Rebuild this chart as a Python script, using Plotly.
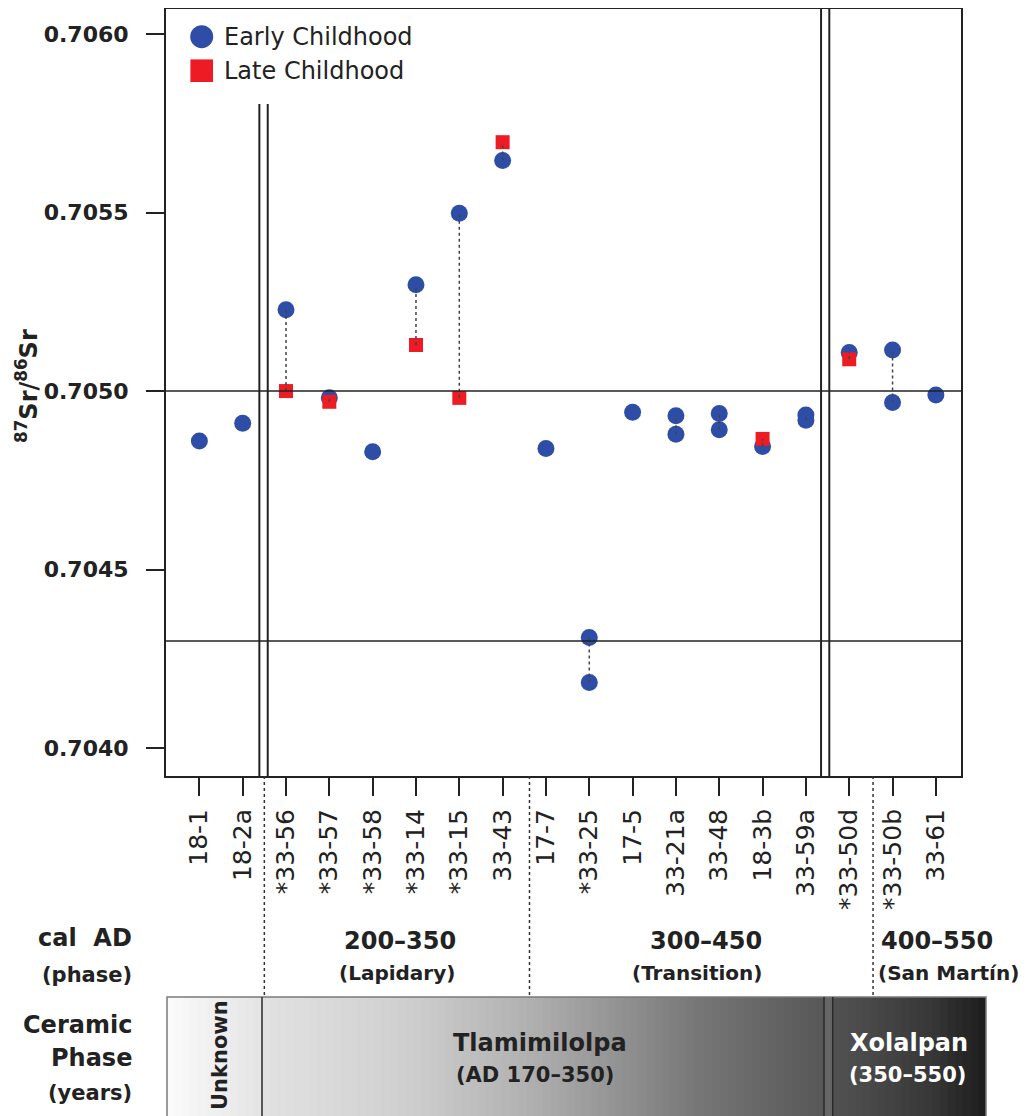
import plotly.graph_objects as go

# ---------------- data ----------------
categories = ["18-1", "18-2a", "*33-56", "*33-57", "*33-58", "*33-14", "*33-15", "33-43",
              "17-7", "*33-25", "17-5", "33-21a", "33-48", "18-3b", "33-59a", "*33-50d",
              "*33-50b", "33-61"]
early_a = [0.704860, 0.704910, 0.705228, 0.704981, 0.704830, 0.705298, 0.705498, 0.705646,
           0.704839, 0.704310, 0.704941, 0.704931, 0.704937, 0.704845, 0.704933, 0.705108,
           0.705115, 0.704989]
early_b = [None, None, None, None, None, None, None, None, None, 0.704184, None, 0.704879,
           0.704892, None, 0.704918, None, 0.704968, None]
late = [None, None, 0.705000, 0.704970, None, 0.705129, 0.704981, 0.705697, None, None, None,
        None, None, 0.704866, None, 0.705089, None, None]
reference_lines = [0.7050, 0.7043]
y_ticks = [0.7040, 0.7045, 0.7050, 0.7055, 0.7060]

phase_labels = [("200\u2013350", "(Lapidary)"), ("300\u2013450", "(Transition)"),
                ("400\u2013550", "(San Mart\u00edn)")]
ceramic_labels = [("Tlamimilolpa", "(AD 170\u2013350)"), ("Xolalpan", "(350\u2013550)")]

# ---------------- geometry helpers (page pixels; the page body has an 8px margin) ----------------
OFF = 8
W, H = 1026 - OFF, 1116 - OFF
L, T = 166 - OFF, 1
R = W - (961 - OFF)
B = H - (776 - OFF)
PW, PH = W - L - R, H - T - B
X_RANGE = [-0.77, 17.58]
Y_RANGE = [0.703922, 0.706070]


def fx(px):
    return (px - 166) / PW


def fy(py):
    return (776 - py) / PH


def fxi(i):
    return (i - X_RANGE[0]) / (X_RANGE[1] - X_RANGE[0])


BLUE = "#2E4DA7"
RED = "#ED1C24"
INK = "#222222"
BOLD = "DejaVu Sans"

fig = go.Figure()

# early childhood circles
ex, ey = [], []
for c, a, b in zip(categories, early_a, early_b):
    ex.append(c); ey.append(a)
    if b is not None:
        ex.append(c); ey.append(b)
fig.add_trace(go.Scatter(x=ex, y=ey, mode="markers", name="Early Childhood",
                         marker=dict(symbol="circle", size=17, color=BLUE, line=dict(width=0)),
                         showlegend=False))

lx = [c for c, v in zip(categories, late) if v is not None]
ly = [v for v in late if v is not None]
fig.add_trace(go.Scatter(x=lx, y=ly, mode="markers", name="Late Childhood",
                         marker=dict(symbol="square", size=14, color=RED, line=dict(width=0)),
                         showlegend=False))

# dashed connectors between samples of the same individual
cx, cy = [], []
for c, a, b, l in zip(categories, early_a, early_b, late):
    vals = [v for v in (a, b, l) if v is not None]
    if len(vals) > 1:
        cx += [c, c, None]
        cy += [min(vals), max(vals), None]
fig.add_trace(go.Scatter(x=cx, y=cy, mode="lines", showlegend=False, hoverinfo="skip",
                         line=dict(color="#444444", width=1.5, dash="3px,3px")))

shapes = []
# horizontal reference lines
for v in reference_lines:
    shapes.append(dict(type="line", xref="paper", yref="y", x0=0, x1=1, y0=v, y1=v,
                       line=dict(color=INK, width=1.5)))
# double vertical separators in the plot
for xv in (1.385, 1.578):
    shapes.append(dict(type="line", xref="x", yref="paper", x0=xv, x1=xv, y0=0, y1=fy(104),
                       line=dict(color=INK, width=2)))
for xv in (14.35, 14.54):
    shapes.append(dict(type="line", xref="x", yref="paper", x0=xv, x1=xv, y0=0, y1=1,
                       line=dict(color=INK, width=2)))
# dotted phase dividers below the axis
for xv in (1.5, 7.62, 15.55):
    shapes.append(dict(type="line", xref="paper", yref="paper", x0=fxi(xv), x1=fxi(xv),
                       y0=0, y1=fy(997), line=dict(color="#333333", width=1.5, dash="3px,3px")))


def hex2rgb(h):
    h = h.lstrip("#")
    return tuple(int(h[i:i + 2], 16) for i in (0, 2, 4))


def gradient(stops, n):
    out = []
    x0, x1 = stops[0][0], stops[-1][0]
    step = (x1 - x0) / n
    for k in range(n):
        xa = x0 + k * step
        xm = xa + step / 2
        for j in range(len(stops) - 1):
            if stops[j][0] <= xm <= stops[j + 1][0]:
                t = (xm - stops[j][0]) / (stops[j + 1][0] - stops[j][0])
                ca, cb = hex2rgb(stops[j][1]), hex2rgb(stops[j + 1][1])
                col = tuple(round(ca[q] + (cb[q] - ca[q]) * t) for q in range(3))
                break
        out.append(dict(type="rect", xref="paper", yref="paper", x0=fx(xa),
                        x1=fx(min(xa + step + 0.8, x1)),
                        y0=fy(1120), y1=fy(997), line=dict(width=0),
                        fillcolor="rgb(%d,%d,%d)" % col, layer="above"))
    return out


shapes += gradient([(167, "#fbfbfb"), (262, "#e4e4e4")], 12)
shapes += gradient([(262, "#e2e2e2"), (400, "#d0d0d0"), (520, "#b3b3b3"), (620, "#929292"),
                    (700, "#767676"), (824, "#575757")], 70)
shapes.append(dict(type="rect", xref="paper", yref="paper", x0=fx(824), x1=fx(833),
                   y0=fy(1120), y1=fy(997), line=dict(width=0), fillcolor="#666666", layer="above"))
shapes += gradient([(833, "#525252"), (930, "#383838"), (986, "#1c1c1c")], 20)
# box outline & dividers
shapes.append(dict(type="rect", xref="paper", yref="paper", x0=fx(167), x1=fx(986),
                   y0=fy(1125), y1=fy(997), line=dict(color="#7a7a7a", width=1.5), layer="above"))
for px in (262, 824, 832.7):
    shapes.append(dict(type="line", xref="paper", yref="paper", x0=fx(px), x1=fx(px),
                       y0=fy(1120), y1=fy(997), line=dict(color="#2a2a2a", width=1.5), layer="above"))

# manual legend symbols (larger than plotly's legend clamp)
shapes.append(dict(type="circle", xref="paper", yref="paper", x0=fx(190.2), x1=fx(213.2),
                   y0=fy(48.2), y1=fy(25.2), fillcolor=BLUE, line=dict(width=0)))
shapes.append(dict(type="rect", xref="paper", yref="paper", x0=fx(190.4), x1=fx(213),
                   y0=fy(82), y1=fy(59.4), fillcolor=RED, line=dict(width=0)))

ann = []


def text(s, px, py, size, xanchor="center", color=INK, bold=True, angle=0, family=BOLD):
    ann.append(dict(text=s, xref="paper", yref="paper", x=fx(px), y=fy(py), xanchor=xanchor,
                    yanchor="middle", showarrow=False, textangle=angle,
                    font=dict(family=family, size=size, color=color,
                              weight="bold" if bold else "normal")))


text("Early Childhood", 222, 37, 24, xanchor="left", bold=False)
text("Late Childhood", 222, 71, 24, xanchor="left", bold=False)
text("<sup>87</sup>Sr/<sup>86</sup>Sr", 27, 386, 24, angle=-90)

text("cal\u00a0 AD", 134, 938, 24, xanchor="right")
text("(phase)", 134, 975, 21, xanchor="right")
text("Ceramic", 134, 1025, 24, xanchor="right")
text("Phase", 134, 1058, 24, xanchor="right")
text("(years)", 134, 1093, 21, xanchor="right")

for (top, sub), (px1, px2) in zip(phase_labels, [(400, 397), (706, 697), (937, 948)]):
    text(top, px1, 941, 24)
    text(sub, px2, 973, 20)

text("Unknown", 220, 1055, 21, angle=-90)
text(ceramic_labels[0][0], 540, 1043, 24)
text(ceramic_labels[0][1], 535, 1075, 21)
text(ceramic_labels[1][0], 909, 1043, 24, color="white")
text(ceramic_labels[1][1], 907, 1075, 21, color="white")

fig.update_layout(
    width=W, height=H, template="none",
    margin=dict(l=L, r=R, t=T, b=B, autoexpand=False),
    paper_bgcolor="white", plot_bgcolor="white",
    showlegend=False, shapes=shapes, annotations=ann,
    xaxis=dict(type="category", categoryorder="array", categoryarray=categories,
               range=X_RANGE, showgrid=False, zeroline=False, automargin=False,
               showline=True, mirror=True, linecolor=INK, linewidth=2,
               ticks="outside", ticklen=18, tickwidth=1.5, tickcolor=INK,
               tickangle=-90, ticklabelstandoff=3,
               tickfont=dict(family="DejaVu Sans", size=25, color=INK)),
    yaxis=dict(range=Y_RANGE, showgrid=False, zeroline=False, automargin=False,
               showline=True, mirror=True, linecolor=INK, linewidth=2,
               tickvals=y_ticks, tickformat=".4f",
               ticks="outside", ticklen=18, tickwidth=1.5, tickcolor=INK,
               ticklabelstandoff=13,
               tickfont=dict(family=BOLD, size=22, color=INK, weight="bold")),
)

fig.write_html("out.html")
